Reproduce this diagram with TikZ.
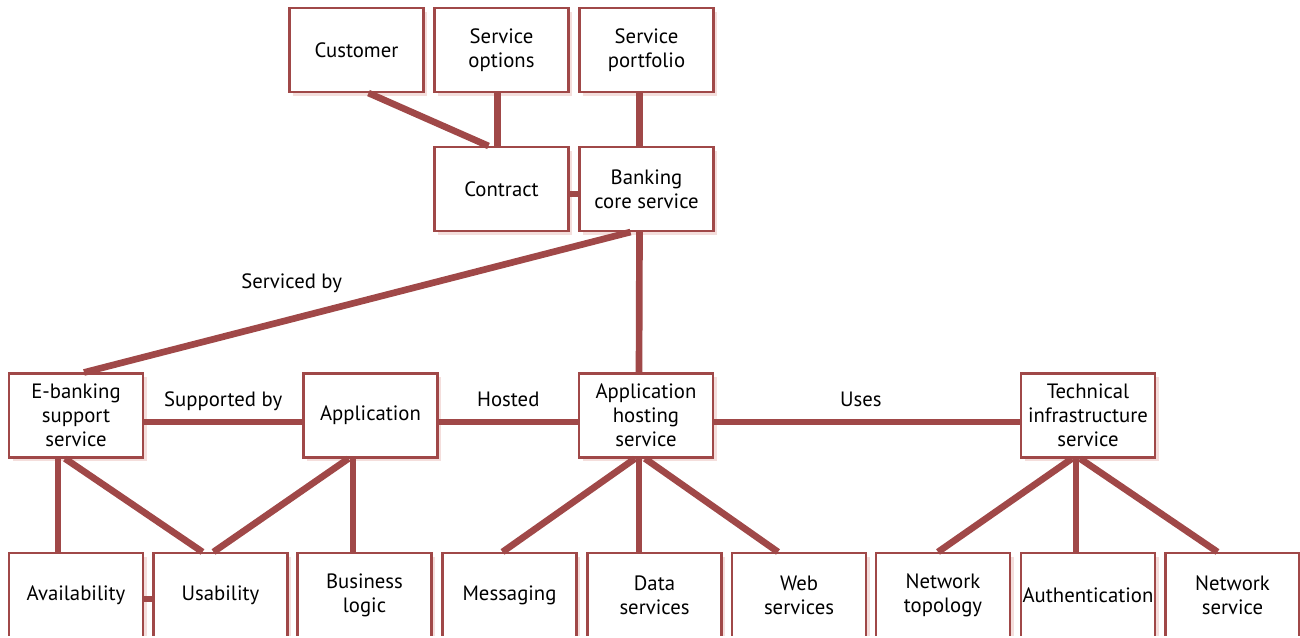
\documentclass[tikz,border=0pt]{standalone}
\usepackage{fontspec}
\setmainfont{PT Sans}
\usepackage{tikz}
\usetikzlibrary{calc,shadows}
\definecolor{linkred}{RGB}{160,72,72}
\definecolor{shadowpink}{RGB}{244,222,220}
\tikzset{
	box/.style={draw=linkred, line width=1.2pt, fill=white, minimum width=2.68cm, minimum height=1.68cm,
		inner sep=1pt, align=center, font=\fontsize{11.8}{13.6}\selectfont,
		drop shadow={shadow xshift=2pt, shadow yshift=-2pt, fill=shadowpink, opacity=1}},
	link/.style={draw=linkred, line width=3.8pt},
	lbl/.style={font=\fontsize{11.8}{13.6}\selectfont, anchor=base, inner sep=0pt}
}

\begin{document}
\begin{tikzpicture}[x=0.02cm, y=-0.02cm]
			%%%%% START %%%%%
			
			\useasboundingbox (0, 0) rectangle (1300, 637);
			\clip (0, 0) rectangle (1300, 635.5);
			
			\node[box] (cust) at (356.5, 50) {Customer};
			\node[box] (opts) at (501.5, 50) {Service\\options};
			\node[box] (portf) at (646.5, 50) {Service\\portfolio};
			\node[box] (contr) at (501.5, 189) {Contract};
			\node[box] (core) at (646.5, 189) {Banking\\core service};
			
			\node[box] (ebank) at (76, 415.5) {E-banking\\support\\service};
			\node[box] (app) at (370.5, 415.5) {Application};
			\node[box] (host) at (646, 415.5) {Application\\hosting\\service};
			\node[box] (tech) at (1088, 415.5) {Technical\\infrastructure\\service};
			
			\node[box] (avail) at (76, 595) {Availability};
			\node[box] (usab) at (220.5, 595) {Usability};
			\node[box] (blogic) at (364.5, 595) {Business\\logic};
			\node[box] (msg) at (509.5, 595) {Messaging};
			\node[box] (data) at (654.5, 595) {Data\\services};
			\node[box] (web) at (799, 595) {Web\\services};
			\node[box] (topo) at (943, 595) {Network\\topology};
			\node[box] (auth) at (1088, 595) {Authentication};
			\node[box] (nserv) at (1232.5, 595) {Network\\service};
			
			% top part
			\draw[link] ($(cust.south)+(12, 0)$) -- ($(contr.north)+(-13, 0)$);
			\draw[link] ($(opts.south)+(-4, 0)$) -- ($(contr.north)+(-4, 0)$);
			\draw[link] ($(portf.south)+(-7, 0)$) -- ($(core.north)+(-7, 0)$);
			\draw[link] ($(contr.east)+(0, 5)$) -- ($(core.west)+(0, 5)$);
			\draw[link] ($(core.south)+(-7, 0)$) -- ($(host.north)+(-7, 0)$);
			\draw[link] ($(core.south)+(-16, 0)$) -- node[lbl, pos=0.62, yshift=17.5pt] {Serviced by} ($(ebank.north)+(8, 0)$);
			
			% middle row
			\draw[link] ($(ebank.east)+(0, 6.5)$) -- node[lbl, midway, yshift=9pt] {Supported by} ($(app.west)+(0, 6.5)$);
			\draw[link] ($(app.east)+(0, 6.5)$) -- node[lbl, midway, yshift=9pt] {Hosted} ($(host.west)+(0, 6.5)$);
			\draw[link] ($(host.east)+(0, 6.5)$) -- node[lbl, pos=0.48, yshift=9pt] {Uses} ($(tech.west)+(0, 6.5)$);
			
			% bottom row
			\draw[link] ($(ebank.south)+(-18, 0)$) -- ($(avail.north)+(-18, 0)$);
			\draw[link] ($(ebank.south)+(-11, 0)$) -- ($(usab.north)+(-18, 0)$);
			\draw[link] ($(app.south)+(-22, 0)$) -- ($(usab.north)+(-7, 0)$);
			\draw[link] ($(app.south)+(-17.5, 0)$) -- ($(blogic.north)+(-11.5, 0)$);
			\draw[link] ($(avail.east)+(0, 4)$) -- ($(usab.west)+(0, 4)$);
			
			\draw[link] ($(host.south)+(-11, 0)$) -- ($(msg.north)+(-7, 0)$);
			\draw[link] ($(host.south)+(-7, 0)$) -- ($(data.north)+(-15.5, 0)$);
			\draw[link] ($(host.south)+(-1, 0)$) -- ($(web.north)+(-21, 0)$);
			
			\draw[link] ($(tech.south)+(-16, 0)$) -- ($(topo.north)+(-5, 0)$);
			\draw[link] ($(tech.south)+(-12, 0)$) -- ($(auth.north)+(-12, 0)$);
			\draw[link] ($(tech.south)+(-8, 0)$) -- ($(nserv.north)+(-15, 0)$);
			
			%%%%% END %%%%%
\end{tikzpicture}
\end{document}
